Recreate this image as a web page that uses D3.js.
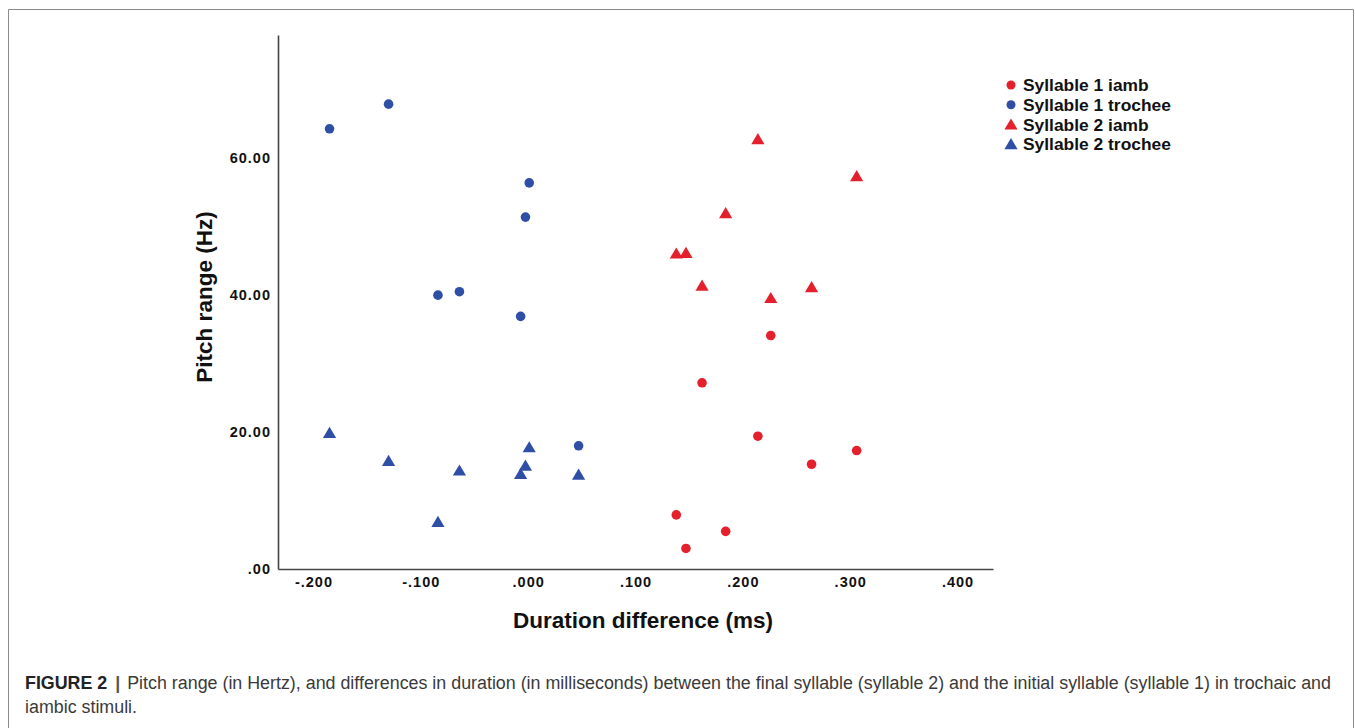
<!DOCTYPE html>
<html>
<head>
<meta charset="utf-8">
<script src="https://cdn.jsdelivr.net/npm/d3@7"></script>
<style>
body { margin: 0; background: #fff; }
svg { display: block; font-family: 'Liberation Sans', Arial, Helvetica, sans-serif; }
</style>
</head>
<body>
<svg width="1355" height="728"></svg>
<script>
// values, one entry per stimulus
let trocheeDuration = [-0.185, -0.130, -0.084, -0.064, -0.007, -0.0025, 0.001, 0.047]
let trocheeSyl1Pitch = [64.3, 67.9, 40.0, 40.5, 36.9, 51.4, 56.4, 18.0]
let trocheeSyl2Pitch = [19.9, 15.8, 6.9, 14.4, 13.9, 15.1, 17.8, 13.8]
let iambDuration = [0.138, 0.147, 0.162, 0.184, 0.214, 0.226, 0.264, 0.306]
let iambSyl1Pitch = [7.9, 3.0, 27.2, 5.5, 19.4, 34.1, 15.3, 17.3]
let iambSyl2Pitch = [46.1, 46.2, 41.4, 52.0, 62.8, 39.6, 41.2, 57.4]

let xTicks = [-0.2, -0.1, 0, 0.1, 0.2, 0.3, 0.4]
let yTicks = [0, 20, 40, 60]
let seriesNames = ['Syllable 1 iamb', 'Syllable 1 trochee', 'Syllable 2 iamb', 'Syllable 2 trochee']

let red = '#e3202c',
    blue = '#2f4fa6'

let series = [
    { name: seriesNames[0], shape: 'circle', color: red, xs: iambDuration, ys: iambSyl1Pitch },
    { name: seriesNames[1], shape: 'circle', color: blue, xs: trocheeDuration, ys: trocheeSyl1Pitch },
    { name: seriesNames[2], shape: 'triangle', color: red, xs: iambDuration, ys: iambSyl2Pitch },
    { name: seriesNames[3], shape: 'triangle', color: blue, xs: trocheeDuration, ys: trocheeSyl2Pitch }
]

let svg = d3.select('svg')

// figure frame
svg.append('path')
    .attr('d', 'M8.5,740 L8.5,9.5 L1353.5,9.5 L1353.5,740')
    .attr('fill', 'none')
    .attr('stroke', '#8a8a8a')
    .attr('stroke-width', 1)

let x = d3.scaleLinear().domain([-0.233, 0.433]).range([278, 993])
let y = d3.scaleLinear().domain([0, 78]).range([569, 35])

// SPSS style: no leading zero, e.g. -.200 / .00
let fmtX = v => d3.format('.3f')(v).replace('\u2212', '-').replace(/^(-?)0\./, '$1.')
let fmtY = v => d3.format('.2f')(v).replace(/^0\./, '.')

svg.append('g')
    .attr('transform', 'translate(0,' + y(0) + ')')
    .call(d3.axisBottom(x).tickValues(xTicks).tickFormat(fmtX).tickSize(0).tickPadding(8))
svg.append('g')
    .attr('transform', 'translate(' + x.range()[0] + ',0)')
    .call(d3.axisLeft(y).tickValues(yTicks).tickFormat(fmtY).tickSize(0).tickPadding(7))

svg.selectAll('.domain')
    .attr('stroke', '#444')
    .attr('stroke-width', 1.6)
svg.selectAll('.tick text')
    .attr('font-family', "'Liberation Sans', Arial, sans-serif")
    .attr('font-size', 14.5)
    .attr('font-weight', 'bold')
    .attr('letter-spacing', 1)
    .attr('fill', '#111')

svg.append('text')
    .text('Duration difference (ms)')
    .attr('x', 643)
    .attr('y', 620)
    .attr('dy', '0.35em')
    .attr('text-anchor', 'middle')
    .attr('font-size', 22.5)
    .attr('font-weight', 'bold')
    .attr('fill', '#111')

svg.append('text')
    .text('Pitch range (Hz)')
    .attr('transform', 'translate(204,297) rotate(-90)')
    .attr('dy', '0.35em')
    .attr('text-anchor', 'middle')
    .attr('font-size', 22.5)
    .attr('font-weight', 'bold')
    .attr('fill', '#111')

let triangle = 'M0,-6 L6.6,5.2 L-6.6,5.2 Z'

function drawMark(sel, s, r) {
    if (s.shape === 'circle') {
        sel.append('circle').attr('r', r).attr('fill', s.color)
    } else {
        sel.append('path').attr('d', triangle).attr('fill', s.color)
    }
}

let plot = svg.append('g')
series.forEach(s => {
    let pts = s.xs.map((v, i) => ({ x: v, y: s.ys[i] }))
    plot.selectAll(null)
        .data(pts)
        .enter()
        .append('g')
        .attr('transform', d => 'translate(' + x(d.x) + ',' + y(d.y) + ')')
        .each(function() { drawMark(d3.select(this), s, 4.8) })
})

let legend = svg.append('g').attr('transform', 'translate(1011,85)')
let rows = legend.selectAll('g')
    .data(series)
    .enter()
    .append('g')
    .attr('transform', (d, i) => 'translate(0,' + i * 19.7 + ')')
rows.each(function(d) { drawMark(d3.select(this), d, 4.5) })
rows.append('text')
    .text(d => d.name)
    .attr('x', 12)
    .attr('dy', '0.36em')
    .attr('font-size', 17.4)
    .attr('font-weight', 'bold')
    .attr('fill', '#111')

// caption
let cap = svg.append('g').attr('font-size', 17.85).attr('fill', '#3a3a3a')
let line1 = cap.append('text').attr('x', 25).attr('y', 689)
line1.append('tspan').text('FIGURE 2').attr('font-weight', 'bold').attr('fill', '#222')
line1.append('tspan').text(' | ').attr('font-weight', 'bold').attr('fill', '#555').attr('dx', 3)
line1.append('tspan').text('Pitch range (in Hertz), and differences in duration (in milliseconds) between the final syllable (syllable 2) and the initial syllable (syllable 1) in trochaic and').attr('dx', 2)
cap.append('text').attr('x', 25).attr('y', 713).text('iambic stimuli.')
</script>
</body>
</html>
